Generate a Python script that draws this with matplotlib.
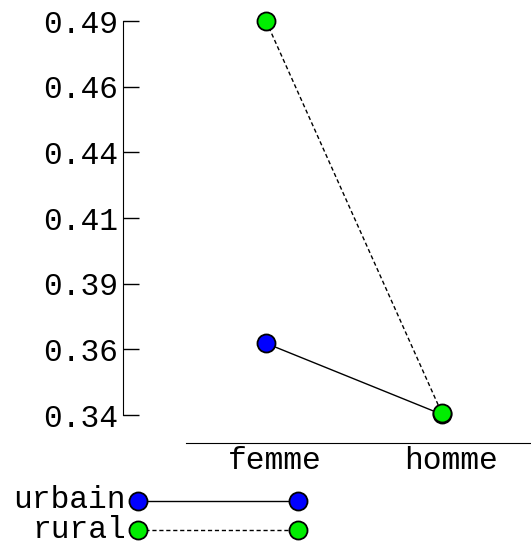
import matplotlib
matplotlib.use("Agg")
import matplotlib.pyplot as plt
import matplotlib.transforms as mtransforms
import numpy as np

# data
sexes = ["femme", "homme"]
groups = ["urbain", "rural"]
urbain = [0.3673, 0.3402]
rural = [0.4900, 0.3406]
colors = ["#0000ff", "#00ee00"]
styles = ["-", (0, (3, 2))]
ytick_labels = ["0.34", "0.36", "0.39", "0.41", "0.44", "0.46", "0.49"]

plt.rcParams['font.family'] = ['Liberation Mono', 'DejaVu Sans']
plt.rcParams['font.size'] = 22.5

W, H = 531, 544
fig = plt.figure(figsize=(W / 100, H / 100), dpi=100)

# main axes, placed in pixel terms
ax = fig.add_axes([123 / W, (H - 443) / H, (W - 123) / W, (443 - 10) / H])
x = np.arange(len(sexes))

for vals, col, ls in zip([urbain, rural], colors, styles):
    ax.plot(x, vals, color="black", lw=1, linestyle=ls, marker="o",
            markersize=13, markerfacecolor=col, markeredgecolor="black",
            markeredgewidth=1.3, clip_on=False)

yticks = np.linspace(0.34, 0.49, len(ytick_labels))
ax.set_xlim(-0.8125, 1.5057)
ax.set_ylim(0.32934, 0.49419)
ax.set_yticks(yticks)
ax.set_yticklabels(ytick_labels)
ax.set_xticks(x)
ax.set_xticklabels(sexes)

for s in ["top", "right"]:
    ax.spines[s].set_visible(False)
ax.spines["left"].set_bounds(0.34, 0.49)
ax.spines["bottom"].set_bounds(-0.4545, 1.5057)
ax.tick_params(axis="y", direction="in", length=11.5, width=1, pad=3.5)
ax.tick_params(axis="x", length=0, pad=2.5)

# shift category labels a little to the right, as in the original
shift = mtransforms.ScaledTranslation(9 / 100, 0, fig.dpi_scale_trans)
for lbl in ax.get_xticklabels():
    lbl.set_transform(lbl.get_transform() + shift)

# legend drawn by hand underneath
lax = fig.add_axes([138 / W, 0, (298 - 138) / W, 58 / H])
lax.set_xlim(0, 1)
lax.set_ylim(-0.5, 1.5)
lax.axis("off")
for i, (g, col, ls) in enumerate(zip(groups, colors, styles)):
    row = len(groups) - 1 - i
    lax.plot([0, 1], [row, row], color="black", lw=1, linestyle=ls, marker="o",
             markersize=13, markerfacecolor=col, markeredgecolor="black",
             markeredgewidth=1.3, clip_on=False)
    lax.annotate(g, (0, row), xytext=(-12, 0), textcoords="offset pixels",
                 ha="right", va="center", annotation_clip=False)

fig.savefig("out.png", dpi=100)
